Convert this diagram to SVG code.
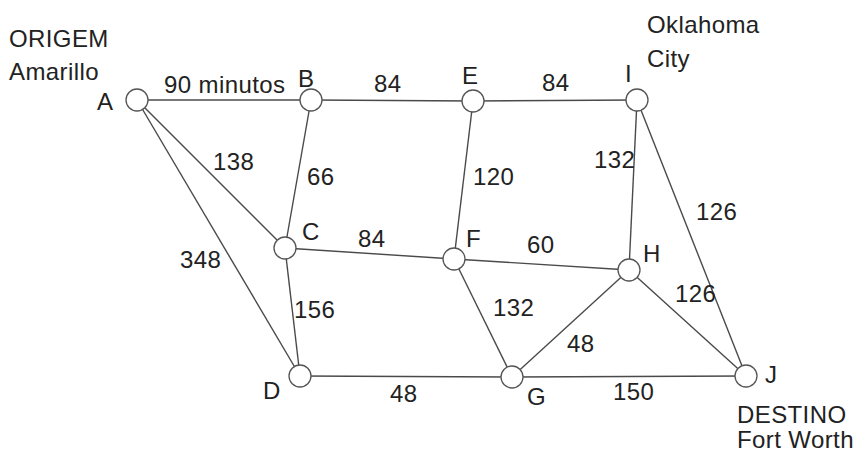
<svg xmlns="http://www.w3.org/2000/svg" width="862" height="456" viewBox="0 0 862 456">
<style>
text{font-family:"Liberation Sans",Arial,sans-serif;font-size:24px;letter-spacing:0.4px;fill:#222}
.e line{stroke:#4a4a4a;stroke-width:1.4}
circle{fill:#fff;stroke:#555;stroke-width:1.3}
</style>
<rect width="862" height="456" fill="#fff"/>
<g id="connectors" class="e">
<line x1="137" y1="100" x2="311" y2="100"/>
<line x1="311" y1="100" x2="473" y2="101"/>
<line x1="473" y1="101" x2="637" y2="100"/>
<line x1="137" y1="100" x2="285" y2="248"/>
<line x1="137" y1="100" x2="300" y2="376"/>
<line x1="311" y1="100" x2="285" y2="248"/>
<line x1="285" y1="248" x2="454" y2="259"/>
<line x1="473" y1="101" x2="454" y2="259"/>
<line x1="637" y1="100" x2="629" y2="270"/>
<line x1="637" y1="100" x2="746" y2="376"/>
<line x1="285" y1="248" x2="300" y2="376"/>
<line x1="454" y1="259" x2="629" y2="270"/>
<line x1="454" y1="259" x2="512" y2="377"/>
<line x1="629" y1="270" x2="512" y2="377"/>
<line x1="629" y1="270" x2="746" y2="376"/>
<line x1="300" y1="376" x2="512" y2="377"/>
<line x1="512" y1="377" x2="746" y2="376"/>
</g>
<g id="edge-labels">
<text x="164" y="93">90 minutos</text>
<text x="374" y="92">84</text>
<text x="542" y="91">84</text>
<text x="213" y="170">138</text>
<text x="307" y="185">66</text>
<text x="180" y="268">348</text>
<text x="358" y="247">84</text>
<text x="473" y="185">120</text>
<text x="594" y="168">132</text>
<text x="696" y="220">126</text>
<text x="527" y="253">60</text>
<text x="675" y="302">126</text>
<text x="294" y="318">156</text>
<text x="493" y="316">132</text>
<text x="567" y="352">48</text>
<text x="390" y="402">48</text>
<text x="613" y="400">150</text>
</g>
<g id="node-A"><circle cx="137" cy="100" r="11"/><text x="97" y="110">A</text><text x="9" y="47">ORIGEM</text><text x="9" y="80">Amarillo</text></g>
<g id="node-B"><circle cx="311" cy="100" r="11"/><text x="298" y="87">B</text></g>
<g id="node-E"><circle cx="473" cy="101" r="11"/><text x="462" y="84">E</text></g>
<g id="node-I"><circle cx="637" cy="100" r="11"/><text x="625" y="82">I</text><text x="647" y="33">Oklahoma</text><text x="647" y="67">City</text></g>
<g id="node-C"><circle cx="285" cy="248" r="11"/><text x="302" y="240">C</text></g>
<g id="node-F"><circle cx="454" cy="259" r="11"/><text x="466" y="247">F</text></g>
<g id="node-H"><circle cx="629" cy="270" r="11"/><text x="643" y="262">H</text></g>
<g id="node-D"><circle cx="300" cy="376" r="11"/><text x="263" y="399">D</text></g>
<g id="node-G"><circle cx="512" cy="377" r="11"/><text x="527" y="405">G</text></g>
<g id="node-J"><circle cx="746" cy="376" r="11"/><text x="765" y="383">J</text><text x="737" y="423">DESTINO</text><text x="737" y="448">Fort Worth</text></g>
</svg>
